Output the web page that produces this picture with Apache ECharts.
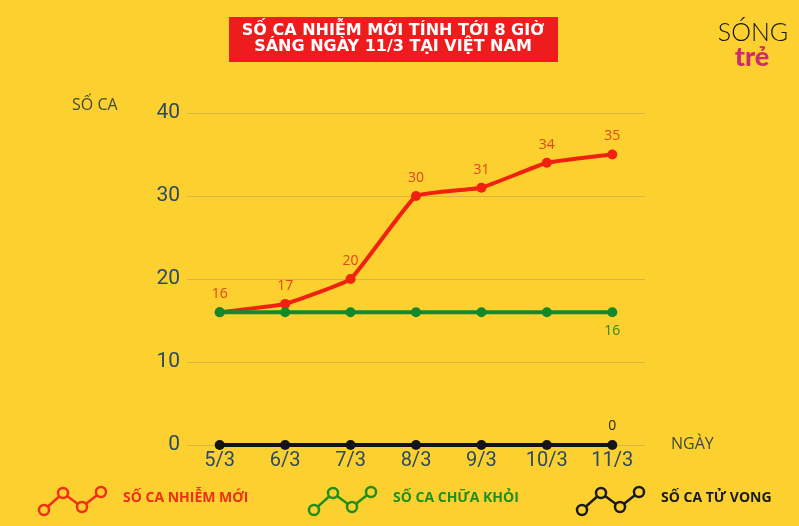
<!DOCTYPE html>
<html>
<head>
<meta charset="utf-8">
<script src="https://cdn.jsdelivr.net/npm/echarts@6/dist/echarts.min.js"></script>
<style>
  html, body { margin: 0; padding: 0; background: #fcd02e; }
  #main { width: 799px; height: 526px; }
</style>
</head>
<body>
<div id="main"></div>
<script>
// dữ liệu
var days = ['5/3', '6/3', '7/3', '8/3', '9/3', '10/3', '11/3'];
var newCases = [16, 17, 20, 30, 31, 34, 35];
var recovered = [16, 16, 16, 16, 16, 16, 16];
var deaths = [0, 0, 0, 0, 0, 0, 0];
var yTicks = [0, 10, 20, 30, 40];

var RED = '#f0220f', GREEN = '#128a2c', BLACK = '#141414';
var AXIS_TXT = '#2c4a66';

function lastOnly(color, pos) {
  return {
    show: true, position: pos, distance: 7, fontSize: 14, color: color,
    fontFamily: 'Open Sans',
    formatter: function (p) { return p.dataIndex === days.length - 1 ? p.value : ''; }
  };
}

// vẽ icon chú thích
function legendItem(x, color, label) {
  var pts = [[x, 510], [x + 19, 493], [x + 38, 507], [x + 57, 492]];
  var items = [{
    type: 'polyline', shape: { points: pts },
    style: { stroke: color, lineWidth: 2.5, fill: null }
  }];
  pts.forEach(function (p) {
    items.push({
      type: 'circle', shape: { cx: p[0], cy: p[1], r: 5 },
      style: { stroke: color, lineWidth: 2.5, fill: '#fcd02e' }
    });
  });
  items.push({
    type: 'text', left: x + 79, top: 491,
    style: { text: label, fill: color, font: 'bold 14px "Open Sans"' }
  });
  return items;
}

var chart = echarts.init(document.getElementById('main'));
chart.setOption({
  backgroundColor: '#fcd02e',
  animation: false,
  grid: { left: 187, right: 154, top: 113, bottom: 81 },
  xAxis: {
    type: 'category', data: days, boundaryGap: true,
    axisLine: { show: false }, axisTick: { show: false },
    axisLabel: { color: AXIS_TXT, fontSize: 20, margin: 6, fontFamily: 'Roboto' }
  },
  yAxis: {
    type: 'value', min: yTicks[0], max: yTicks[yTicks.length - 1], interval: 10,
    axisLabel: { color: AXIS_TXT, fontSize: 21, margin: 7, fontFamily: 'Roboto' },
    splitLine: { lineStyle: { color: '#d8b440', width: 1 } }
  },
  series: [
    {
      name: 'SỐ CA CHỮA KHỎI', type: 'line', data: recovered, z: 3,
      lineStyle: { color: GREEN, width: 4 }, itemStyle: { color: GREEN },
      symbol: 'circle', symbolSize: 10,
      label: lastOnly('#2f8a1c', 'bottom')
    },
    {
      name: 'SỐ CA NHIỄM MỚI', type: 'line', data: newCases, smooth: 0.1, z: 2,
      lineStyle: { color: RED, width: 4 }, itemStyle: { color: RED },
      symbol: 'circle', symbolSize: 10,
      label: { show: true, position: 'top', distance: 6, fontSize: 14, color: '#e2461a', fontFamily: 'Open Sans' }
    },
    {
      name: 'SỐ CA TỬ VONG', type: 'line', data: deaths, z: 4,
      lineStyle: { color: BLACK, width: 4 }, itemStyle: { color: BLACK },
      symbol: 'circle', symbolSize: 10,
      label: lastOnly('#2a2a1a', 'top')
    }
  ],
  graphic: [
    { type: 'rect', shape: { x: 229, y: 17, width: 329, height: 45 }, style: { fill: '#ee1c1c' } },
    {
      type: 'text', x: 393, y: 39,
      style: {
        text: 'SỐ CA NHIỄM MỚI TÍNH TỚI 8 GIỜ\nSÁNG NGÀY 11/3 TẠI VIỆT NAM',
        fill: '#fff', font: 'bold 16px "DejaVu Sans"', align: 'center', verticalAlign: 'middle', lineHeight: 16
      }
    },
    { type: 'text', x: 753, y: 33, style: { text: 'SÓNG', fill: '#111', font: '300 25px "Lato"', align: 'center', verticalAlign: 'middle' } },
    { type: 'text', x: 752, y: 57, style: { text: 'trẻ', fill: '#d02a6e', font: '900 27px "Lato"', align: 'center', verticalAlign: 'middle' } },
    { type: 'text', x: 72, y: 97, style: { text: 'SỐ CA', fill: '#3b4a3a', font: '16px "Open Sans"' } },
    { type: 'text', x: 671, y: 436, style: { text: 'NGÀY', fill: '#3b4a3a', font: '16px "Open Sans"' } }
  ].concat(legendItem(44, '#ef2f14', 'SỐ CA NHIỄM MỚI'))
   .concat(legendItem(314, '#1f8f1a', 'SỐ CA CHỮA KHỎI'))
   .concat(legendItem(582, '#1a1a1a', 'SỐ CA TỬ VONG'))
});
</script>
</body>
</html>
